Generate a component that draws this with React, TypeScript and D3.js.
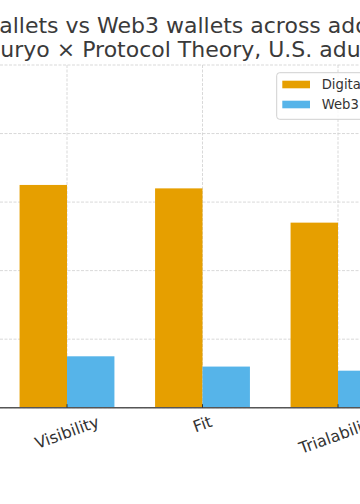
import React from "react";
import * as d3 from "d3";

const categories = ["Visibility", "Fit", "Trialability"];
const digitalValues = [32.5, 32, 27];
const web3Values = [7.5, 6, 5.4];
const seriesNames = ["Digital wallets", "Web3 wallets"];
const yTicks = [0, 10, 20, 30, 40, 50];
const titleLines = [
  { prefix: "Digital w", rest: "allets vs Web3 wallets across adoption drivers" },
  { prefix: "(Ky", rest: "uryo × Protocol Theory, U.S. adults)" },
];

const W = 360;
const H = 504;
const FONT = "DejaVu Sans, Verdana, sans-serif";
const ORANGE = "#E69F00";
const BLUE = "#56B4E9";

let ctx: CanvasRenderingContext2D | null = null;
function measure(text: string, size: number) {
  if (!ctx) ctx = document.createElement("canvas").getContext("2d");
  if (!ctx) return text.length * size * 0.6;
  ctx.font = `${size}px "DejaVu Sans"`;
  return ctx.measureText(text).width;
}

export default function App() {
  const baseY = 407.7;
  const topY = 65;
  const x = d3.scaleBand<string>().domain(categories).range([-0.75, 405.75]).padding(0);
  const step = x.bandwidth();
  const cx = (c: string) => (x(c) as number) + step / 2;
  const barW = step * 0.35;
  const y = d3.scaleLinear().domain([0, 50]).range([baseY, topY]);

  const titleSize = 22;
  const tickSize = 16;
  const legendSize = 13.2;
  const theta = (20 * Math.PI) / 180;
  const lineH = tickSize * 1.164;

  return (
    <div style={{ position: "absolute", left: 0, top: 0 }}>
      <svg width={W} height={H} style={{ display: "block", background: "#fff" }}>
        <rect x={0} y={0} width={W} height={H} fill="#fff" />
        {/* grid */}
        {yTicks.map((t) => (
          <line key={"gy" + t} x1={0} x2={W} y1={y(t)} y2={y(t)} stroke="#cfcfcf" strokeWidth={0.8} strokeDasharray="3,1.5" />
        ))}
        {categories.map((c) => (
          <line key={"gx" + c} x1={cx(c)} x2={cx(c)} y1={topY} y2={baseY} stroke="#cfcfcf" strokeWidth={0.8} strokeDasharray="3,1.5" />
        ))}
        {/* bars */}
        {categories.map((c, i) => (
          <g key={"b" + c}>
            <rect x={cx(c) - barW} y={y(digitalValues[i])} width={barW} height={baseY - y(digitalValues[i])} fill={ORANGE} />
            <rect x={cx(c)} y={y(web3Values[i])} width={barW} height={baseY - y(web3Values[i])} fill={BLUE} />
          </g>
        ))}
        {/* x axis */}
        <line x1={0} x2={W} y1={baseY} y2={baseY} stroke="#555" strokeWidth={1.6} />
        {categories.map((c) => (
          <line key={"t" + c} x1={cx(c)} x2={cx(c)} y1={baseY} y2={baseY - 3.5} stroke="#333" strokeWidth={1} />
        ))}
        {categories.map((c) => {
          const L = measure(c, tickSize);
          const bh = L * Math.sin(theta) + lineH * Math.cos(theta);
          const cy = baseY + 4.5 + bh / 2;
          return (
            <text
              key={"l" + c}
              transform={`translate(${cx(c)},${cy}) rotate(-20)`}
              y={tickSize * 0.346}
              textAnchor="middle"
              fontFamily={FONT}
              fontSize={tickSize}
              fill="#333"
            >
              {c}
            </text>
          );
        })}
        {/* title */}
        {titleLines.map((ln, i) => {
          const startX = i === 0 ? -0.8 : 0.3;
          const pw = measure(ln.prefix, titleSize);
          return (
            <text key={"title" + i} x={startX - pw} y={i === 0 ? 33.3 : 56.7} fontFamily={FONT} fontSize={titleSize} fill="#3a3a3a">
              {ln.prefix + ln.rest}
            </text>
          );
        })}
        {/* legend */}
        <rect x={276.7} y={72.7} width={120} height={46.6} rx={3} fill="#fff" fillOpacity={0.85} stroke="#d0d0d0" strokeWidth={1} />
        {seriesNames.map((s, i) => (
          <g key={"lg" + s}>
            <rect x={282.3} y={80.7 + i * 20} width={27.7} height={7.6} fill={i === 0 ? ORANGE : BLUE} />
            <text x={321.7} y={88.5 + i * 20} fontFamily={FONT} fontSize={legendSize} fill="#333">
              {s}
            </text>
          </g>
        ))}
      </svg>
    </div>
  );
}
